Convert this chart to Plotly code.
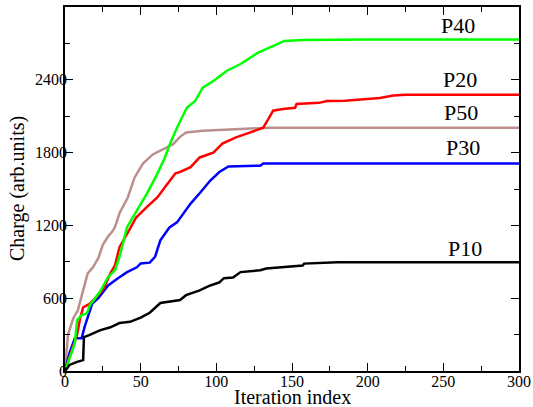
import plotly.graph_objects as go

# ---- data ----
p10_x = [0, 2, 3, 8, 12, 12.5, 16, 23, 30, 36, 43, 50, 56, 63, 76, 80, 89, 96, 102, 105, 111, 116, 122, 129, 133, 145, 157, 158, 166, 180, 300]
p10_y = [0, 40, 50, 75, 90, 280, 295, 335, 360, 395, 405, 440, 480, 560, 585, 625, 665, 705, 730, 765, 770, 815, 822, 830, 845, 858, 870, 885, 890, 896, 896]

p30_x = [0, 3, 6.5, 11, 13, 15, 18, 22, 25, 28.5, 35, 41, 47.5, 50, 56, 59.5, 63, 66, 69, 74, 83, 89, 96, 102, 108, 129, 131, 300]
p30_y = [0, 150, 270, 270, 365, 445, 555, 600, 650, 705, 765, 815, 855, 887, 893, 940, 1077, 1134, 1183, 1225, 1380, 1465, 1570, 1640, 1685, 1692, 1710, 1710]

p20_x = [0, 3, 4.5, 8, 10, 12, 16.5, 23, 26, 30, 33, 36, 41.5, 47, 54, 61, 67, 73, 76, 83, 89, 98, 104, 113, 122, 131, 135, 137.5, 144, 152, 153, 160, 168, 173, 185, 208, 217, 225, 300]
p20_y = [0, 120, 170, 300, 435, 525, 555, 640, 690, 805, 870, 1020, 1140, 1265, 1350, 1430, 1530, 1630, 1640, 1680, 1760, 1800, 1875, 1925, 1965, 2005, 2090, 2145, 2160, 2170, 2200, 2205, 2210, 2225, 2228, 2250, 2270, 2277, 2277]

p40_x = [0, 3, 6.5, 8, 11, 14.5, 16.5, 23, 28.5, 33, 36, 41, 47.5, 54, 61, 66, 69, 74, 80.5, 86, 91, 98, 107, 116, 127, 135.5, 145, 157, 200, 300]
p40_y = [0, 110, 230, 420, 460, 475, 545, 650, 775, 830, 940, 1185, 1320, 1460, 1625, 1760, 1860, 2005, 2170, 2225, 2335, 2390, 2475, 2530, 2620, 2665, 2720, 2728, 2732, 2732]

p50_x = [0, 1, 2, 5.5, 8.5, 12, 15, 18.5, 22, 25, 28.5, 31, 33, 36, 41.5, 46, 51.5, 58, 65, 71.5, 76, 80, 91, 113, 135, 300]
p50_y = [0, 160, 300, 435, 500, 665, 805, 855, 930, 1040, 1110, 1145, 1185, 1300, 1430, 1595, 1710, 1785, 1830, 1870, 1930, 1965, 1980, 1995, 2005, 2005]

series_names = ["P10", "P30", "P20", "P40", "P50"]
series_colors = ["#000000", "#0000ff", "#ff0000", "#00ff00", "#bc8f8f"]

label_names = ["P40", "P20", "P50", "P30", "P10"]
label_x = [260, 261, 262, 263, 264]
label_y = [2850, 2400, 2130, 1845, 1010]

x_ticks = [0, 50, 100, 150, 200, 250, 300]
y_ticks = [0, 600, 1200, 1800, 2400]

FONT = "Liberation Serif"

fig = go.Figure()
xs = [p10_x, p30_x, p20_x, p40_x, p50_x]
ys = [p10_y, p30_y, p20_y, p40_y, p50_y]
order = [4, 1, 2, 3, 0]
for i in order:
    fig.add_trace(go.Scatter(x=xs[i], y=ys[i], mode="lines", name=series_names[i],
                             line=dict(color=series_colors[i], width=2.5),
                             showlegend=False))

for n, lx, ly in zip(label_names, label_x, label_y):
    fig.add_annotation(x=lx, y=ly, xref="x", yref="y", text=n, showarrow=False,
                       font=dict(family=FONT, size=22, color="black"))

# axis titles
fig.add_annotation(x=0.5, y=0, xref="paper", yref="paper", yanchor="top",
                   yshift=-13, text="Iteration index", showarrow=False,
                   font=dict(family=FONT, size=20, color="black"))
fig.add_annotation(x=0, y=0.5, xref="paper", yref="paper", xanchor="center",
                   xshift=-48, text="Charge (arb.units)", textangle=-90, showarrow=False,
                   font=dict(family=FONT, size=20, color="black"))

axis_common = dict(showgrid=False, zeroline=False, showline=True, linecolor="black",
                   linewidth=1.5, mirror="ticks", ticks="inside", ticklen=8,
                   tickwidth=1, tickcolor="black", automargin=False,
                   tickfont=dict(family=FONT, size=16, color="black"))

fig.update_xaxes(range=[0, 300], tickvals=x_ticks, ticklabelstandoff=-5,
                 minor=dict(dtick=25, tick0=0, ticks="inside", ticklen=5, tickcolor="black"),
                 **axis_common)
fig.update_yaxes(range=[0, 3000], tickvals=y_ticks, ticklabelstandoff=-7,
                 minor=dict(dtick=300, tick0=0, ticks="inside", ticklen=5, tickcolor="black"),
                 **axis_common)

fig.update_layout(width=533, height=407, margin=dict(l=65, r=14, t=7, b=36),
                  paper_bgcolor="white", plot_bgcolor="white",
                  font=dict(family=FONT, color="black"))

fig.write_html("out.html", config={"displayModeBar": False},
               post_script="document.body.style.margin='0';document.body.style.padding='0';")
